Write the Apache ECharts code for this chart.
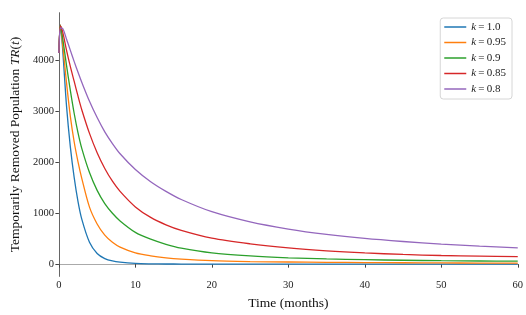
<!DOCTYPE html>
<html>
<head>
<meta charset="utf-8">
<script src="https://cdn.jsdelivr.net/npm/echarts@6/dist/echarts.min.js"></script>
<style>html,body{margin:0;padding:0;background:#fff;}#c{width:526px;height:315px;}</style>
</head>
<body>
<div id="c"></div>
<script>
const times = [0, 0.2, 0.5, 1, 1.5, 2, 2.5, 3, 4, 5, 6, 7, 8, 10, 12, 14, 16, 20, 25, 30, 35, 40, 45, 50, 55, 60];
const k10  = [4150, 4700, 4200, 3100, 2300, 1700, 1230, 880, 430, 210, 110, 62, 38, 14, 6, 3, 2, 1, 0.5, 0.3, 0.2, 0.1, 0.1, 0.1, 0.1, 0.1];
const k095 = [4150, 4700, 4300, 3560, 2900, 2400, 2010, 1680, 1120, 790, 570, 430, 335, 222, 163, 124, 99, 68, 51, 42, 36, 31, 27, 24, 21, 19];
const k090 = [4150, 4690, 4430, 3900, 3410, 2960, 2580, 2270, 1800, 1450, 1190, 1000, 850, 625, 490, 390, 315, 222, 162, 125, 102, 87, 76, 68, 62, 58];
const k085 = [4150, 4680, 4560, 4200, 3880, 3590, 3300, 3030, 2570, 2190, 1880, 1630, 1430, 1125, 918, 773, 663, 510, 400, 320, 262, 220, 190, 170, 157, 147];
const k080 = [4150, 4640, 4630, 4420, 4200, 3980, 3770, 3570, 3200, 2880, 2600, 2370, 2170, 1860, 1620, 1430, 1270, 1030, 830, 690, 585, 505, 445, 395, 355, 321];
const seriesNames = ['1.0', '0.95', '0.9', '0.85', '0.8'];
const seriesValues = [k10, k095, k090, k085, k080];
const colors = ['#1f77b4', '#ff7f0e', '#2ca02c', '#d62728', '#9467bd'];
const xTicks = [0, 10, 20, 30, 40, 50, 60];
const yTicks = [0, 1000, 2000, 3000, 4000];

const FONT = 'Liberation Serif';
const chart = echarts.init(document.getElementById('c'));
const series = seriesNames.map((n, i) => ({
  name: n,
  type: 'line',
  data: times.map((t, j) => [t, seriesValues[i][j]]),
  smooth: 0.3,
  symbol: 'none',
  lineStyle: { width: 1.3, color: colors[i] },
  itemStyle: { color: colors[i] },
  xAxisIndex: 0, yAxisIndex: 0
}));

chart.setOption({
  animation: false,
  backgroundColor: '#fff',
  grid: { left: 57, right: 8, top: 13, bottom: 35 },
  legend: {
    orient: 'vertical', right: 14, top: 18,
    icon: 'rect',
    itemWidth: 22, itemHeight: 1.5, itemGap: 1.5,
    padding: [2, 6, 3, 4],
    borderColor: '#d6d6d6', borderWidth: 1, borderRadius: 3,
    backgroundColor: 'rgba(255,255,255,0.8)',
    data: seriesNames,
    formatter: n => '{i|k}{n|\u2009=\u2009' + n + '}',
    textStyle: {
      fontFamily: FONT, fontSize: 11, color: '#222', lineHeight: 14,
      rich: {
        i: { fontFamily: FONT, fontStyle: 'italic', fontSize: 11, color: '#222', lineHeight: 14 },
        n: { fontFamily: FONT, fontSize: 11, color: '#222', lineHeight: 14 }
      }
    }
  },
  xAxis: [{
    type: 'value', min: 0, max: 60, interval: 10,
    name: 'Time (months)', nameLocation: 'middle', nameGap: 13,
    nameTextStyle: { fontFamily: FONT, fontSize: 13.5, color: '#111', verticalAlign: 'top' },
    axisLine: { show: true, lineStyle: { color: '#444', width: 1 } },
    axisTick: { show: true, length: 3.5, lineStyle: { color: '#444' }, customValues: xTicks },
    axisLabel: { fontFamily: FONT, fontSize: 10.5, color: '#222', margin: 4, customValues: xTicks, formatter: v => String(v) },
    splitLine: { show: false }
  }, {
    type: 'value', min: 0, max: 60, position: 'top',
    axisLine: { show: true, lineStyle: { color: '#aaa', width: 1 } },
    axisTick: { show: false }, axisLabel: { show: false }, splitLine: { show: false }
  }],
  yAxis: [{
    type: 'value', min: -235, max: 4935,
    name: '{n|Temporarily Removed Population }{i|TR}{n|(}{i|t}{n|)}',
    nameLocation: 'middle', nameGap: 27, nameRotate: 90,
    nameTextStyle: {
      fontFamily: FONT, fontSize: 13.5, color: '#111',
      rich: {
        n: { fontFamily: FONT, fontSize: 13.5, color: '#111' },
        i: { fontFamily: FONT, fontSize: 13.5, color: '#111', fontStyle: 'italic' }
      }
    },
    axisLine: { show: true, lineStyle: { color: '#444', width: 1 } },
    axisTick: { show: true, length: 3.5, lineStyle: { color: '#444' }, customValues: yTicks },
    axisLabel: { fontFamily: FONT, fontSize: 10.5, color: '#222', margin: 5, customValues: yTicks, formatter: v => String(v) },
    splitLine: { show: false }
  }, {
    type: 'value', min: -235, max: 4935, position: 'right',
    axisLine: { show: true, lineStyle: { color: '#666', width: 1 } },
    axisTick: { show: false }, axisLabel: { show: false }, splitLine: { show: false }
  }],
  series: series
});
</script>
</body>
</html>
